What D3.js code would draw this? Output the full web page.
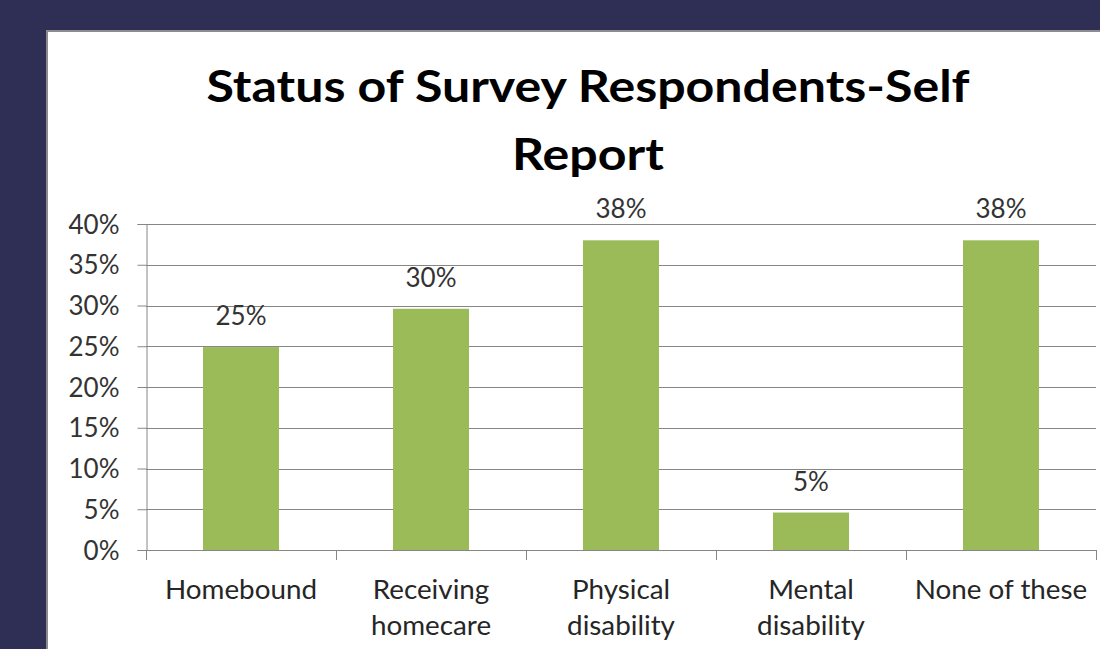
<!DOCTYPE html>
<html>
<head>
<meta charset="utf-8">
<script src="https://cdn.jsdelivr.net/npm/d3@7"></script>
<style>
  html, body { margin: 0; padding: 0; background: #2f2e54; }
  svg { display: block; }
</style>
</head>
<body>
<svg id="chart" width="1100" height="649"></svg>
<script>
// Survey responses: share of respondents reporting each status
const categories = ["Homebound", "Receiving homecare", "Physical disability", "Mental disability", "None of these"];
const categoryLines = [["Homebound"], ["Receiving", "homecare"], ["Physical", "disability"], ["Mental", "disability"], ["None of these"]];
const values = [0.249, 0.296, 0.38, 0.046, 0.38];
const yTicks = [0, 0.05, 0.10, 0.15, 0.20, 0.25, 0.30, 0.35, 0.40];
const titleLines = ["Status of Survey Respondents-Self", "Report"];

const svg = d3.select("#chart");
const W = 1100, H = 649;

// slide background and the white chart panel
svg.append("rect").attr("width", W).attr("height", H).attr("fill", "#2f2e54");
svg.append("rect")
  .attr("x", 47).attr("y", 31).attr("width", W).attr("height", H)
  .attr("fill", "#ffffff").attr("stroke", "#8c8c8c").attr("stroke-width", 2);

const plot = { left: 146, right: 1096, top: 224, bottom: 550 };

const x = d3.scaleBand()
  .domain(categories)
  .range([plot.left, plot.right])
  .paddingInner(0.6)
  .paddingOuter(0.3);

const y = d3.scaleLinear().domain([0, 0.4]).range([plot.bottom, plot.top]);
const pct = d3.format(".0%");
const font = "Lato, 'Open Sans', sans-serif";

// title (slightly widened glyphs)
svg.append("g").selectAll("text")
  .data(titleLines).join("text")
  .attr("transform", (d, i) => `translate(588,${102 + i * 68}) scale(1.165,1)`)
  .attr("text-anchor", "middle")
  .attr("font-family", font).attr("font-weight", 700).attr("font-size", 43)
  .attr("fill", "#000").text(d => d);

// horizontal gridlines
svg.append("g").selectAll("line")
  .data(yTicks.filter(t => t > 0)).join("line")
  .attr("x1", plot.left).attr("x2", plot.right)
  .attr("y1", d => Math.round(y(d)) + 0.5).attr("y2", d => Math.round(y(d)) + 0.5)
  .attr("stroke", "#868686").attr("stroke-width", 1);

// y axis
const yAxis = svg.append("g")
  .attr("transform", `translate(${plot.left + 0.5},0)`)
  .call(d3.axisLeft(y).tickValues(yTicks).tickFormat(pct).tickSize(9).tickPadding(18));
yAxis.select(".domain").attr("stroke", "#868686");
yAxis.selectAll(".tick line").attr("stroke", "#868686");
yAxis.selectAll(".tick text")
  .attr("font-family", font).attr("font-size", 26).attr("fill", "#333")
  .attr("dy", "0.35em");

// bars
svg.append("g").selectAll("rect")
  .data(values).join("rect")
  .attr("x", (d, i) => x(categories[i]))
  .attr("width", x.bandwidth())
  .attr("y", d => y(d))
  .attr("height", d => y(0) - y(d))
  .attr("fill", "#9bbb59");

// value labels
svg.append("g").selectAll("text")
  .data(values).join("text")
  .attr("x", (d, i) => x(categories[i]) + x.bandwidth() / 2)
  .attr("y", d => y(d) - 22)
  .attr("text-anchor", "middle")
  .attr("font-family", font).attr("font-size", 26).attr("fill", "#333")
  .text(d => pct(d));

// x axis line and category boundary ticks
svg.append("line")
  .attr("x1", plot.left).attr("x2", plot.right)
  .attr("y1", plot.bottom + 0.5).attr("y2", plot.bottom + 0.5)
  .attr("stroke", "#868686");
const bounds = categories.map(c => x(c) - x.step() * x.paddingInner() / 2).concat([plot.right]);
bounds[0] = plot.left;
svg.append("g").selectAll("line")
  .data(bounds).join("line")
  .attr("x1", d => Math.round(d) + 0.5).attr("x2", d => Math.round(d) + 0.5)
  .attr("y1", plot.bottom).attr("y2", plot.bottom + 10)
  .attr("stroke", "#868686");

// category labels
const xl = svg.append("g").selectAll("g")
  .data(categoryLines).join("g")
  .attr("transform", (d, i) => `translate(${x(categories[i]) + x.bandwidth() / 2},0) scale(1.07,1)`);
xl.each(function(lines) {
  d3.select(this).selectAll("text")
    .data(lines).join("text")
    .attr("x", 0).attr("y", (d, j) => 599 + j * 36)
    .attr("text-anchor", "middle")
    .attr("font-family", font).attr("font-size", 26).attr("fill", "#262626")
    .text(d => d);
});
</script>
</body>
</html>
